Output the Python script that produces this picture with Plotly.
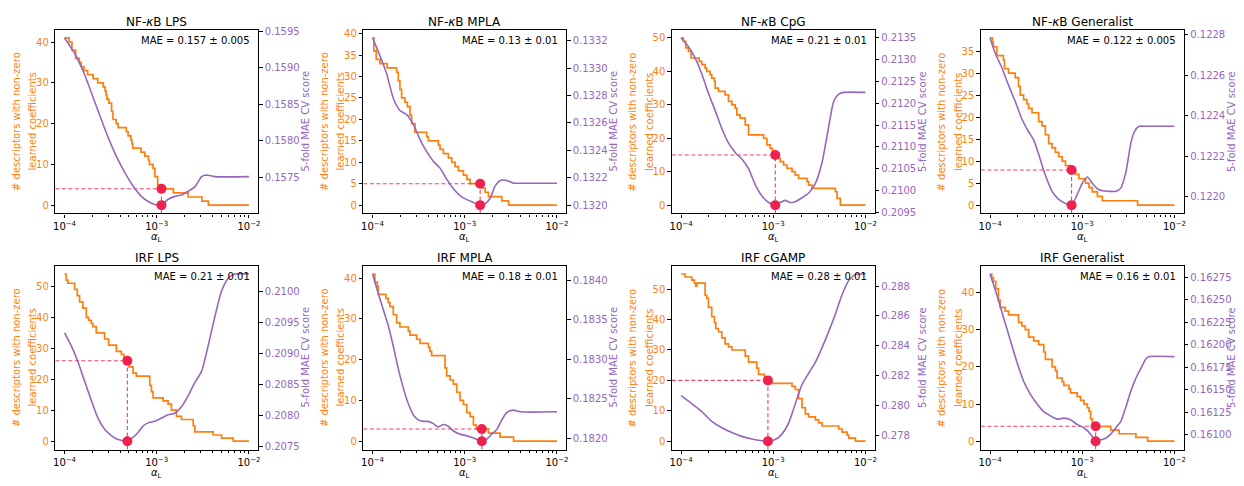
import numpy as np
import plotly.graph_objects as go

FONT = "DejaVu Sans"
ORANGE = "#ff7f0e"
PURPLE = "#9467bd"
RED = "#f0204f"

# ---------------- data ----------------
titles = ["NF-<i>κ</i>B LPS", "NF-<i>κ</i>B MPLA", "NF-<i>κ</i>B CpG", "NF-<i>κ</i>B Generalist",
          "IRF LPS", "IRF MPLA", "IRF cGAMP", "IRF Generalist"]
mae_labels = ["MAE = 0.157 ± 0.005", "MAE = 0.13 ± 0.01", "MAE = 0.21 ± 0.01", "MAE = 0.122 ± 0.005",
              "MAE = 0.21 ± 0.01", "MAE = 0.18 ± 0.01", "MAE = 0.28 ± 0.01", "MAE = 0.16 ± 0.01"]

# number of non-zero coefficients vs log10(alpha_L)
nfkb_lps_n_log_alpha = [-4.00, -3.95, -3.92, -3.88, -3.84, -3.82, -3.79, -3.75, -3.69, -3.64, -3.58, -3.56,
                        -3.55, -3.54, -3.52, -3.49, -3.475, -3.44, -3.42, -3.33, -3.31, -3.28, -3.27, -3.26,
                        -3.17, -3.13, -3.09, -3.08, -3.04, -3.02, -2.99, -2.96, -2.82, -2.66, -2.51, -2.44, -2.00]
nfkb_lps_n = [41, 40, 38, 36, 35, 34, 33, 32, 31, 30, 29, 28, 27, 26, 25, 23, 21, 20, 19, 18, 17, 16, 15, 14,
              13, 12, 11, 10, 9, 7, 5, 4, 3, 2, 1, 0, 0]
nfkb_lps_mae_log_alpha = [-4.000, -3.891, -3.783, -3.674, -3.565, -3.457, -3.348, -3.239, -3.167, -3.094, -3.022,
                          -2.949, -2.877, -2.804, -2.732, -2.659, -2.587, -2.514, -2.478, -2.442, -2.370, -2.000]
nfkb_lps_mae = [0.15941, 0.15920, 0.15891, 0.15854, 0.15817, 0.15784, 0.15757, 0.15735, 0.15724, 0.15717,
                0.15713, 0.15712, 0.15720, 0.15724, 0.15726, 0.15731, 0.15737, 0.15751, 0.15753, 0.15753,
                0.15751, 0.15751]

nfkb_mpla_n_log_alpha = [-4.000, -3.986, -3.960, -3.920, -3.841, -3.739, -3.721, -3.703, -3.685, -3.649, -3.623,
                         -3.594, -3.576, -3.540, -3.413, -3.395, -3.286, -3.268, -3.232, -3.178, -3.141, -3.105,
                         -3.069, -3.014, -2.978, -2.942, -2.815, -2.779, -2.743, -2.598, -2.525, -2.000]
nfkb_mpla_n = [39, 36, 34, 33, 32, 31, 29, 27, 25, 24, 23, 21, 19, 17, 16, 15, 14, 13, 12, 11, 10, 9, 8, 7, 6,
               5, 4, 3, 2, 1, 0, 0]
nfkb_mpla_mae_log_alpha = [-4.000, -3.920, -3.848, -3.775, -3.703, -3.630, -3.558, -3.486, -3.413, -3.341, -3.268,
                           -3.196, -3.123, -3.051, -2.978, -2.906, -2.833, -2.779, -2.725, -2.670, -2.616, -2.543,
                           -2.471, -2.399, -2.000]
nfkb_mpla_mae = [0.13322, 0.13309, 0.13296, 0.13278, 0.13269, 0.13266, 0.13259, 0.13248, 0.13239, 0.13232,
                 0.13227, 0.13219, 0.13212, 0.13207, 0.13204, 0.13202, 0.13200, 0.13201, 0.13205, 0.13214,
                 0.13218, 0.13218, 0.13216, 0.13216, 0.13216]

nfkb_cpg_n_log_alpha = [-4.000, -3.975, -3.949, -3.920, -3.891, -3.804, -3.775, -3.739, -3.721, -3.685, -3.667,
                        -3.638, -3.630, -3.594, -3.522, -3.486, -3.449, -3.413, -3.395, -3.359, -3.304, -3.268,
                        -3.105, -3.069, -3.033, -3.010, -2.990, -2.942, -2.924, -2.888, -2.851, -2.797, -2.761,
                        -2.725, -2.634, -2.616, -2.580, -2.326, -2.308, -2.272, -2.000]
nfkb_cpg_n = [50, 49, 47, 46, 44, 43, 42, 41, 40, 39, 38, 37, 35, 34, 33, 31, 30, 29, 27, 26, 24, 21, 20, 18,
              17, 16, 15, 14, 13, 12, 11, 10, 9, 8, 7, 6, 5, 4, 2, 0, 0]
nfkb_cpg_mae_log_alpha = [-4.000, -3.920, -3.848, -3.775, -3.703, -3.630, -3.558, -3.486, -3.413, -3.341, -3.268,
                          -3.196, -3.123, -3.051, -2.978, -2.924, -2.870, -2.815, -2.761, -2.688, -2.616, -2.543,
                          -2.471, -2.399, -2.344, -2.290, -2.236, -2.000]
nfkb_cpg_mae = [0.21350, 0.21330, 0.21304, 0.21267, 0.21223, 0.21183, 0.21142, 0.21109, 0.21087, 0.21072,
                0.21050, 0.21013, 0.20987, 0.20972, 0.20966, 0.20972, 0.20977, 0.20972, 0.20974, 0.20983,
                0.20994, 0.21016, 0.21064, 0.21146, 0.21205, 0.21221, 0.21225, 0.21225]

nfkb_gen_n_log_alpha = [-4.000, -3.975, -3.964, -3.927, -3.855, -3.844, -3.800, -3.727, -3.691, -3.673, -3.636,
                        -3.600, -3.582, -3.545, -3.473, -3.436, -3.400, -3.364, -3.327, -3.291, -3.255, -3.218,
                        -3.182, -3.130, -3.073, -3.036, -2.964, -2.927, -2.891, -2.836, -2.782, -2.400, -2.000]
nfkb_gen_n = [38, 37, 36, 34, 33, 31, 30, 29, 27, 25, 24, 23, 22, 21, 19, 18, 16, 14, 13, 12, 11, 10, 9, 8, 7,
              6, 5, 4, 3, 2, 1, 0, 0]
nfkb_gen_mae_log_alpha = [-4.000, -3.945, -3.873, -3.800, -3.727, -3.655, -3.582, -3.527, -3.473, -3.400, -3.327,
                          -3.255, -3.182, -3.116, -3.055, -3.000, -2.945, -2.891, -2.836, -2.782, -2.709, -2.636,
                          -2.582, -2.527, -2.473, -2.436, -2.382, -2.309, -2.000]
nfkb_gen_mae = [0.122784, 0.122710, 0.122638, 0.122551, 0.122471, 0.122384, 0.122321, 0.122281, 0.122210,
                0.122106, 0.122027, 0.121987, 0.121967, 0.121959, 0.122011, 0.122067, 0.122098, 0.122067,
                0.122040, 0.122030, 0.122027, 0.122027, 0.122043, 0.122122, 0.122265, 0.122321, 0.122348,
                0.122348, 0.122348]

irf_lps_n_log_alpha = [-4.000, -3.982, -3.964, -3.891, -3.862, -3.837, -3.801, -3.764, -3.739, -3.710, -3.692,
                       -3.656, -3.565, -3.522, -3.438, -3.384, -3.355, -3.301, -3.257, -3.221, -3.076, -3.058,
                       -3.040, -2.931, -2.877, -2.841, -2.786, -2.732, -2.605, -2.587, -2.388, -2.297, -2.170, -2.000]
irf_lps_n = [54, 52, 51, 49, 47, 45, 43, 40, 39, 38, 37, 35, 33, 31, 29, 28, 26, 24, 22, 21, 18, 16, 14, 13,
             12, 10, 8, 7, 5, 3, 2, 1, 0, 0]
irf_lps_mae_log_alpha = [-4.000, -3.928, -3.855, -3.783, -3.710, -3.638, -3.565, -3.493, -3.420, -3.319, -3.257,
                         -3.203, -3.149, -3.094, -3.022, -2.949, -2.877, -2.804, -2.732, -2.659, -2.587, -2.514,
                         -2.442, -2.370, -2.297, -2.225, -2.152, -2.000]
irf_lps_mae = [0.209335, 0.209127, 0.208867, 0.208555, 0.208243, 0.207957, 0.207775, 0.207672, 0.207609,
               0.207583, 0.207646, 0.207724, 0.207827, 0.207879, 0.207905, 0.207957, 0.208009, 0.208035,
               0.208139, 0.208321, 0.208529, 0.208711, 0.209127, 0.209595, 0.210010, 0.210218, 0.210286,
               0.210286]

irf_mpla_n_log_alpha = [-4.000, -3.975, -3.949, -3.938, -3.855, -3.830, -3.812, -3.775, -3.739, -3.703, -3.612,
                        -3.594, -3.522, -3.486, -3.395, -3.377, -3.359, -3.214, -3.196, -3.159, -3.123, -3.087,
                        -3.051, -3.014, -2.978, -2.942, -2.906, -2.877, -2.743, -2.616, -2.471, -2.000]
irf_mpla_n = [41, 39, 38, 36, 35, 34, 33, 31, 29, 28, 27, 26, 25, 24, 23, 22, 21, 18, 16, 15, 14, 12, 10, 9, 7,
              6, 4, 3, 2, 1, 0, 0]
irf_mpla_mae_log_alpha = [-4.000, -3.938, -3.884, -3.830, -3.775, -3.721, -3.667, -3.612, -3.558, -3.504, -3.449,
                          -3.395, -3.341, -3.286, -3.232, -3.178, -3.123, -3.051, -2.978, -2.906, -2.815, -2.761,
                          -2.707, -2.652, -2.598, -2.543, -2.471, -2.399, -2.000]
irf_mpla_mae = [0.184077, 0.183830, 0.183628, 0.183426, 0.183164, 0.182881, 0.182638, 0.182436, 0.182295,
                0.182234, 0.182214, 0.182214, 0.182186, 0.182145, 0.182174, 0.182153, 0.182093, 0.182053,
                0.182032, 0.182004, 0.181964, 0.181992, 0.182053, 0.182113, 0.182234, 0.182327, 0.182356,
                0.182335, 0.182335]

irf_cgamp_n_log_alpha = [-4.000, -3.957, -3.884, -3.855, -3.841, -3.830, -3.739, -3.721, -3.703, -3.667, -3.638,
                         -3.623, -3.594, -3.558, -3.522, -3.486, -3.449, -3.304, -3.268, -3.178, -3.159, -3.094,
                         -3.069, -3.033, -2.797, -2.761, -2.725, -2.688, -2.652, -2.616, -2.543, -2.507, -2.471,
                         -2.290, -2.254, -2.199, -2.181, -2.109, -2.000]
irf_cgamp_n = [55, 54, 53, 52, 51, 52, 48, 47, 44, 41, 39, 37, 36, 34, 32, 31, 30, 28, 26, 24, 22, 21, 20, 19,
               18, 17, 14, 11, 9, 8, 7, 6, 5, 4, 3, 2, 1, 0, 0]
irf_cgamp_mae_log_alpha = [-4.000, -3.884, -3.775, -3.667, -3.558, -3.449, -3.341, -3.232, -3.141, -3.058, -2.978,
                           -2.906, -2.833, -2.761, -2.688, -2.616, -2.543, -2.471, -2.399, -2.326, -2.254, -2.181,
                           -2.109, -2.036, -2.000]
irf_cgamp_mae = [0.280645, 0.280108, 0.279570, 0.278925, 0.278495, 0.278172, 0.277914, 0.277742, 0.277634,
                 0.277591, 0.277699, 0.278065, 0.278817, 0.280108, 0.281398, 0.282151, 0.282903, 0.283871,
                 0.284946, 0.286129, 0.287419, 0.288387, 0.288774, 0.288817, 0.288817]

irf_gen_n_log_alpha = [-4.000, -3.982, -3.964, -3.938, -3.909, -3.891, -3.836, -3.800, -3.691, -3.655, -3.618,
                       -3.582, -3.527, -3.473, -3.418, -3.400, -3.327, -3.291, -3.273, -3.218, -3.200, -3.145,
                       -3.127, -3.055, -3.018, -2.982, -2.945, -2.927, -2.909, -2.891, -2.691, -2.600, -2.418,
                       -2.291, -2.000]
irf_gen_n = [45, 44, 43, 41, 38, 36, 35, 34, 32, 31, 30, 28, 27, 26, 24, 22, 20, 19, 17, 16, 15, 14, 13, 12, 11,
             10, 9, 8, 6, 4, 3, 2, 1, 0, 0]
irf_gen_mae_log_alpha = [-4.000, -3.927, -3.855, -3.782, -3.709, -3.636, -3.564, -3.491, -3.418, -3.345, -3.273,
                         -3.200, -3.127, -3.055, -2.982, -2.909, -2.855, -2.800, -2.745, -2.691, -2.636, -2.582,
                         -2.527, -2.473, -2.418, -2.364, -2.309, -2.273, -2.000]
irf_gen_mae = [0.162785, 0.162554, 0.162305, 0.162056, 0.161807, 0.161594, 0.161452, 0.161345, 0.161256,
               0.161210, 0.161174, 0.161185, 0.161167, 0.161114, 0.161078, 0.161007, 0.160929, 0.160945,
               0.160961, 0.161007, 0.161078, 0.161149, 0.161309, 0.161487, 0.161629, 0.161736, 0.161843,
               0.161868, 0.161868]

# selected alpha_L (log10) and number of descriptors kept there
opt_log_alpha = [-2.949, -2.833, -2.978, -3.116, -3.319, -2.815, -3.058, -2.855]
opt_n = [4, 5, 15, 8, 26, 3, 20, 4]

# right-axis tick spacing / format, left-axis tick spacing
mae_dtick = [0.0005, 0.0002, 0.0005, 0.0002, 0.0005, 0.0005, 0.002, 0.00025]
mae_fmt = [".4f", ".4f", ".4f", ".4f", ".4f", ".4f", ".3f", ".5f"]
n_dtick = [10, 5, 10, 5, 10, 10, 10, 10]

panels = [
    (nfkb_lps_n_log_alpha, nfkb_lps_n, nfkb_lps_mae_log_alpha, nfkb_lps_mae),
    (nfkb_mpla_n_log_alpha, nfkb_mpla_n, nfkb_mpla_mae_log_alpha, nfkb_mpla_mae),
    (nfkb_cpg_n_log_alpha, nfkb_cpg_n, nfkb_cpg_mae_log_alpha, nfkb_cpg_mae),
    (nfkb_gen_n_log_alpha, nfkb_gen_n, nfkb_gen_mae_log_alpha, nfkb_gen_mae),
    (irf_lps_n_log_alpha, irf_lps_n, irf_lps_mae_log_alpha, irf_lps_mae),
    (irf_mpla_n_log_alpha, irf_mpla_n, irf_mpla_mae_log_alpha, irf_mpla_mae),
    (irf_cgamp_n_log_alpha, irf_cgamp_n, irf_cgamp_mae_log_alpha, irf_cgamp_mae),
    (irf_gen_n_log_alpha, irf_gen_n, irf_gen_mae_log_alpha, irf_gen_mae),
]

# ---------------- layout geometry (pixels) ----------------
W_FIG, H_FIG = 1244, 486
COL_LEFT = [53.5, 362.5, 672.0, 982.0]
AX_W = 203.5
ROW_TOP = [26.0, 266.0]
AX_H = 187.0


def px(x):
    return x / W_FIG


def py(y):
    return 1 - y / H_FIG


fig = go.Figure()
layout = dict(
    width=W_FIG, height=H_FIG,
    margin=dict(l=0, r=0, t=0, b=0),
    paper_bgcolor="white", plot_bgcolor="white",
    showlegend=False,
    font=dict(family=FONT, size=10, color="black"),
)
annotations = []

minor_vals = [m * 10.0 ** e for e in (-4, -3) for m in range(2, 10)]

for i, (nx, ny, mx, my) in enumerate(panels):
    k = i + 1
    r, c = divmod(i, 4)
    L = COL_LEFT[c]
    T = ROW_TOP[r]
    xa = "x" if k == 1 else f"x{k}"
    yl_id = 2 * k - 1
    yr_id = 2 * k
    yl = "y" if yl_id == 1 else f"y{yl_id}"
    yr = f"y{yr_id}"

    # axis ranges with 5 % padding
    lx_lo, lx_hi = min(nx + mx), max(nx + mx)
    xpad = 0.05 * (lx_hi - lx_lo)
    xr = [lx_lo - xpad, lx_hi + xpad]
    nmax = max(ny)
    nmin = min(ny)
    npad = 0.05 * (nmax - nmin)
    ylr = [nmin - npad, nmax + npad]
    mmin, mmax = min(my), max(my)
    mpad = 0.05 * (mmax - mmin)
    yrr = [mmin - mpad, mmax + mpad]

    xdom = [px(L), px(L + AX_W)]
    ydom = [py(T + AX_H), py(T)]

    layout["xaxis" if k == 1 else f"xaxis{k}"] = dict(
        domain=xdom, anchor=yl, type="log", range=xr,
        tickvals=[1e-4, 1e-3, 1e-2],
        ticktext=["10<sup>−4</sup>", "10<sup>−3</sup>", "10<sup>−2</sup>"],
        ticks="outside", ticklen=3.5, tickwidth=0.9, tickcolor="black",
        minor=dict(tickvals=minor_vals, ticks="outside", ticklen=2, tickwidth=0.6, tickcolor="black"),
        showline=True, linecolor="black", linewidth=1.1, mirror=True,
        showgrid=False, zeroline=False,
        tickfont=dict(family=FONT, size=10, color="black"),
    )
    layout["yaxis" if yl_id == 1 else f"yaxis{yl_id}"] = dict(
        domain=ydom, anchor=xa, range=ylr, dtick=n_dtick[i], tick0=0,
        ticks="outside", ticklen=3.5, tickwidth=0.9, tickcolor="black",
        showline=True, linecolor="black", linewidth=1.1,
        showgrid=False, zeroline=False,
        tickfont=dict(family=FONT, size=10, color=ORANGE),
    )
    layout[f"yaxis{yr_id}"] = dict(
        domain=ydom, anchor=xa, overlaying=yl, side="right", range=yrr,
        dtick=mae_dtick[i], tick0=0, tickformat=mae_fmt[i],
        ticks="outside", ticklen=3.5, tickwidth=0.9, tickcolor="black",
        showline=True, linecolor="black", linewidth=1.1,
        showgrid=False, zeroline=False,
        tickfont=dict(family=FONT, size=10, color=PURPLE),
    )

    alpha_n = 10.0 ** np.array(nx)
    alpha_m = 10.0 ** np.array(mx)
    a_opt = 10.0 ** opt_log_alpha[i]

    # descriptor count (step curve)
    fig.add_trace(go.Scatter(x=alpha_n, y=ny, xaxis=xa, yaxis=yl, mode="lines",
                             line=dict(color=ORANGE, width=1.7, shape="hv"), hoverinfo="skip"))
    # guide lines to the chosen alpha
    fig.add_trace(go.Scatter(x=[10.0 ** xr[0], a_opt], y=[opt_n[i], opt_n[i]], xaxis=xa, yaxis=yl,
                             mode="lines", line=dict(color=RED, width=1.1, dash="4px,2.5px"),
                             opacity=0.85, hoverinfo="skip"))
    fig.add_trace(go.Scatter(x=[a_opt, a_opt], y=[ylr[0], opt_n[i]], xaxis=xa, yaxis=yl,
                             mode="lines", line=dict(color=RED, width=1.1, dash="4px,2.5px"),
                             opacity=0.85, hoverinfo="skip"))
    fig.add_trace(go.Scatter(x=[a_opt], y=[opt_n[i]], xaxis=xa, yaxis=yl, mode="markers",
                             marker=dict(color=RED, size=10), hoverinfo="skip"))
    # cross-validation score
    fig.add_trace(go.Scatter(x=alpha_m, y=my, xaxis=xa, yaxis=yr, mode="lines",
                             line=dict(color=PURPLE, width=1.6, shape="spline", smoothing=0.6),
                             hoverinfo="skip"))
    fig.add_trace(go.Scatter(x=[a_opt], y=[mmin], xaxis=xa, yaxis=yr, mode="markers",
                             marker=dict(color=RED, size=10), hoverinfo="skip"))

    cx = L + AX_W / 2
    cy = T + AX_H / 2
    annotations += [
        dict(text=titles[i], x=px(cx), y=py(T - 8), xref="paper", yref="paper",
             xanchor="center", yanchor="middle", showarrow=False,
             font=dict(family=FONT, size=12, color="black")),
        dict(text=mae_labels[i], x=px(L + AX_W - 6), y=py(T + 11), xref="paper", yref="paper",
             xanchor="right", yanchor="middle", showarrow=False,
             font=dict(family=FONT, size=10, color="black")),
        dict(text="# descriptors with non-zero", x=px(L - 39), y=py(cy), xref="paper", yref="paper",
             xanchor="center", yanchor="middle", textangle=-90, showarrow=False,
             font=dict(family=FONT, size=10, color=ORANGE)),
        dict(text="learned coefficients", x=px(L - 22.5), y=py(cy), xref="paper", yref="paper",
             xanchor="center", yanchor="middle", textangle=-90, showarrow=False,
             font=dict(family=FONT, size=10, color=ORANGE)),
        dict(text="5-fold MAE CV score", x=px(L + AX_W + 48), y=py(cy), xref="paper", yref="paper",
             xanchor="center", yanchor="middle", textangle=-90, showarrow=False,
             font=dict(family=FONT, size=10, color=PURPLE)),
        dict(text="<i>α</i><sub>L</sub>", x=px(cx), y=py(T + AX_H + 24), xref="paper", yref="paper",
             xanchor="center", yanchor="middle", showarrow=False,
             font=dict(family=FONT, size=10, color="black")),
    ]

layout["annotations"] = annotations
fig.update_layout(**layout)
fig.write_html("out.html")
